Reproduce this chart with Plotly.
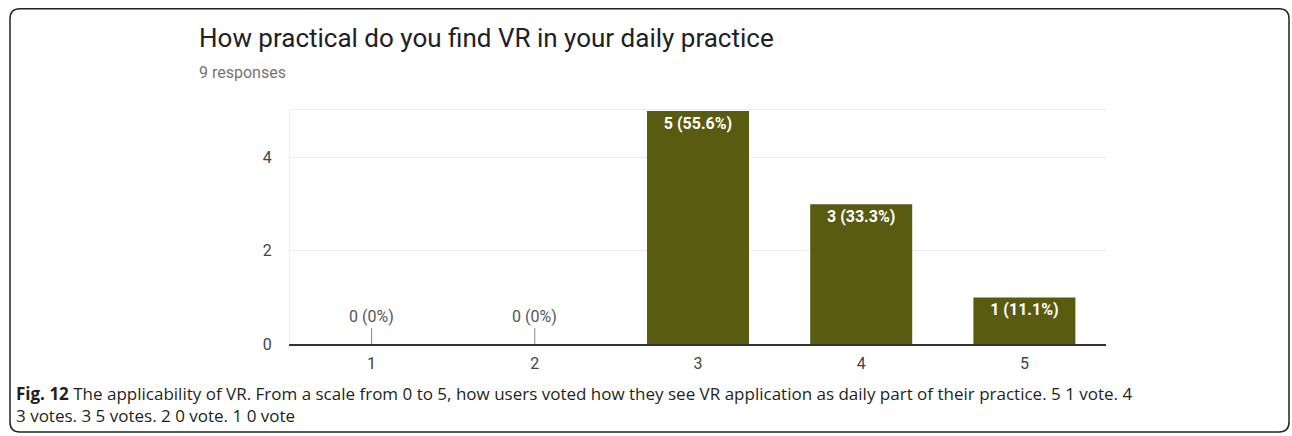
import plotly.graph_objects as go

categories = ["1", "2", "3", "4", "5"]
votes = [0, 0, 5, 3, 1]
total = 9
y_ticks = [0, 2, 4]

W, H = 1292, 436
FIG_H = 446  # rendered page height (picture is taken slightly squeezed vertically)
def px(x):
    return x / W
def py(y):
    return 1 - y / H

labels = [f"{v} ({round(v / total * 100, 1):g}%)" for v in votes]
bar_text = [l if v > 0 else "" for l, v in zip(labels, votes)]

fig = go.Figure()
fig.add_trace(go.Bar(
    x=categories, y=votes, text=bar_text,
    textposition="inside", insidetextanchor="end",
    textfont=dict(family="Roboto", size=16, color="white", weight="bold"),
    marker=dict(color="#585b10", line=dict(width=0)),
    width=0.625, hoverinfo="skip",
))

annotations = []
for i, (v, l) in enumerate(zip(votes, labels)):
    if v == 0:
        annotations.append(dict(
            x=i, y=v, xref="x", yref="y", text=l, showarrow=True,
            arrowhead=0, arrowwidth=1, arrowcolor="#8a8a8a", ax=0, ay=-16,
            yanchor="bottom", font=dict(family="Roboto", size=16, color="#555555"),
        ))

annotations += [
    dict(x=px(197), y=py(38), xref="paper", yref="paper", xanchor="left", yanchor="middle",
         text="How practical do you find VR in your daily practice", showarrow=False,
         font=dict(family="Roboto", size=26, color="#202124")),
    dict(x=px(197), y=py(72), xref="paper", yref="paper", xanchor="left", yanchor="middle",
         text="9 responses", showarrow=False,
         font=dict(family="Roboto", size=16, color="#757575")),
    dict(x=px(14), y=py(393), xref="paper", yref="paper", xanchor="left", yanchor="middle",
         text="<b>Fig. 12</b> The applicability of VR. From a scale from 0 to 5, how users voted how they see VR application as daily part of their practice. 5 1 vote. 4",
         showarrow=False, font=dict(family="Open Sans", size=17, color="#231f20")),
    dict(x=px(14), y=py(415), xref="paper", yref="paper", xanchor="left", yanchor="middle",
         text="3 votes. 3 5 votes. 2 0 vote. 1 0 vote",
         showarrow=False, font=dict(family="Open Sans", size=17, color="#231f20")),
]

x0, x1, y0, y1, r = 10, 1289, 8.75, 432, 10
path = (f"M {px(x0)},{py(y0 + r)} Q {px(x0)},{py(y0)} {px(x0 + r)},{py(y0)} "
        f"L {px(x1 - r)},{py(y0)} Q {px(x1)},{py(y0)} {px(x1)},{py(y0 + r)} "
        f"L {px(x1)},{py(y1 - r)} Q {px(x1)},{py(y1)} {px(x1 - r)},{py(y1)} "
        f"L {px(x0 + r)},{py(y1)} Q {px(x0)},{py(y1)} {px(x0)},{py(y1 - r)} Z")

fig.update_layout(
    width=W, height=FIG_H, margin=dict(l=0, r=0, t=0, b=0),
    paper_bgcolor="white", plot_bgcolor="white", showlegend=False,
    annotations=annotations,
    shapes=[
        dict(type="path", path=path, xref="paper", yref="paper",
             line=dict(color="#222222", width=1.5)),
        dict(type="line", xref="paper", yref="paper", x0=px(290), x1=px(1106),
             y0=py(109.5), y1=py(109.5), line=dict(color="#ececec", width=1)),
    ],
    xaxis=dict(type="category", domain=[px(290), px(1106)], showgrid=False, showline=True,
               linecolor="#333333", linewidth=1.5, ticks="", ticklabelstandoff=4,
               tickfont=dict(family="Roboto", size=16, color="#444444"), fixedrange=True),
    yaxis=dict(domain=[py(344), py(109.5)], range=[0, 5.03], tickvals=y_ticks,
               showgrid=True, gridcolor="#ececec", zeroline=False,
               showline=True, linecolor="#ececec", linewidth=1, ticks="",
               ticklabelstandoff=14,
               tickfont=dict(family="Roboto", size=16, color="#444444"), fixedrange=True),
    bargap=0.375,
)

fig.write_html(
    "out.html",
    config={"displayModeBar": False},
    post_script="document.body.style.margin='0';document.body.style.overflow='hidden';",
)
